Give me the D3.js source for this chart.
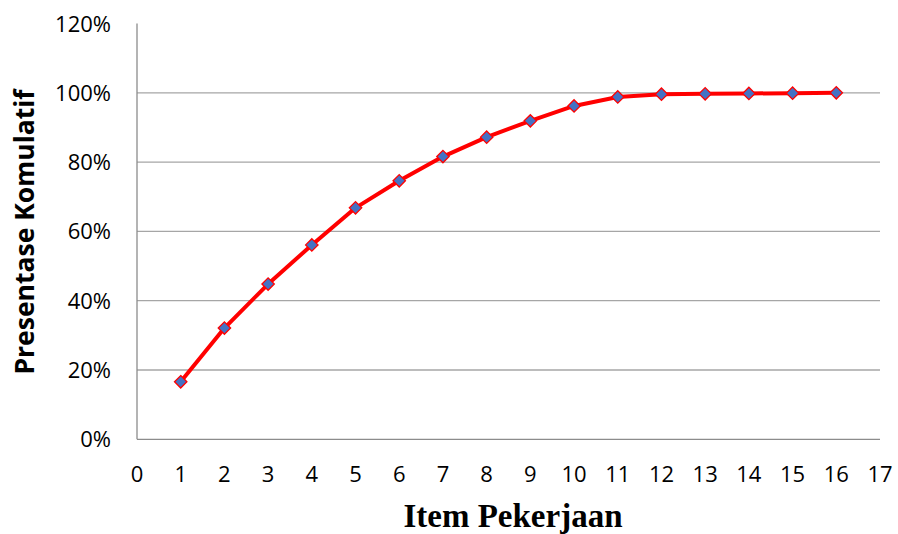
<!DOCTYPE html>
<html><head><meta charset="utf-8">
<script src="https://cdn.jsdelivr.net/npm/d3@7"></script>
<style>body{margin:0;background:#fff}</style>
</head><body>
<svg id="c" width="898" height="534"></svg>
<script>
const items = [1,2,3,4,5,6,7,8,9,10,11,12,13,14,15,16];
const cumPct = [16.6,32.1,44.8,56.1,66.8,74.6,81.6,87.2,91.9,96.2,98.8,99.6,99.7,99.8,99.9,100];
const xTicks = [0,1,2,3,4,5,6,7,8,9,10,11,12,13,14,15,16,17];
const yTicks = [0,20,40,60,80,100,120];

const svg = d3.select("#c");
const x = d3.scaleLinear().domain([0,17]).range([137,880]);
const y = d3.scaleLinear().domain([0,120]).range([439.3,23.5]);

svg.append("g").selectAll("line").data(yTicks.filter(d=>d>0 && d<120)).join("line")
  .attr("x1",137).attr("x2",880).attr("y1",d=>y(d)).attr("y2",d=>y(d))
  .attr("stroke","#a6a6a6").attr("stroke-width",1.3);
svg.append("line").attr("x1",137).attr("x2",137).attr("y1",y(120)).attr("y2",y(0))
  .attr("stroke","#8c8c8c").attr("stroke-width",1.3);
svg.append("line").attr("x1",137).attr("x2",880).attr("y1",y(0)).attr("y2",y(0))
  .attr("stroke","#8c8c8c").attr("stroke-width",1.3);

const tf = "'Open Sans', 'Noto Sans', sans-serif";
svg.append("g").selectAll("text").data(yTicks).join("text")
  .attr("x",111).attr("y",d=>y(d)+8).attr("text-anchor","end")
  .attr("font-family",tf).attr("font-size",22).attr("fill","#000").text(d=>d+"%");
svg.append("g").selectAll("text").data(xTicks).join("text")
  .attr("x",d=>x(d)).attr("y",482).attr("text-anchor","middle")
  .attr("font-family",tf).attr("font-size",22).attr("fill","#000").text(d=>d);

svg.append("text").attr("transform","translate(34,232) rotate(-90)")
  .attr("text-anchor","middle").attr("font-family","'Open Sans', sans-serif").attr("font-weight","bold")
  .attr("font-size",26.5).text("Presentase Komulatif");
svg.append("text").attr("x",513).attr("y",526.5).attr("text-anchor","middle")
  .attr("font-family","'Liberation Serif', serif").attr("font-weight","bold")
  .attr("font-size",33).text("Item Pekerjaan");

const line = d3.line().x((d,i)=>x(items[i])).y(d=>y(d));
svg.append("path").datum(cumPct).attr("d",line).attr("fill","none")
  .attr("stroke","#ff0000").attr("stroke-width",4).attr("stroke-linejoin","round");

svg.append("g").selectAll("path").data(cumPct).join("path")
  .attr("transform",(d,i)=>`translate(${x(items[i])},${y(d)})`)
  .attr("d",d3.symbol(d3.symbolDiamond2, 98)())
  .attr("fill","#4472c4").attr("stroke","#ff0000").attr("stroke-width",1.3);
</script>
</body></html>
